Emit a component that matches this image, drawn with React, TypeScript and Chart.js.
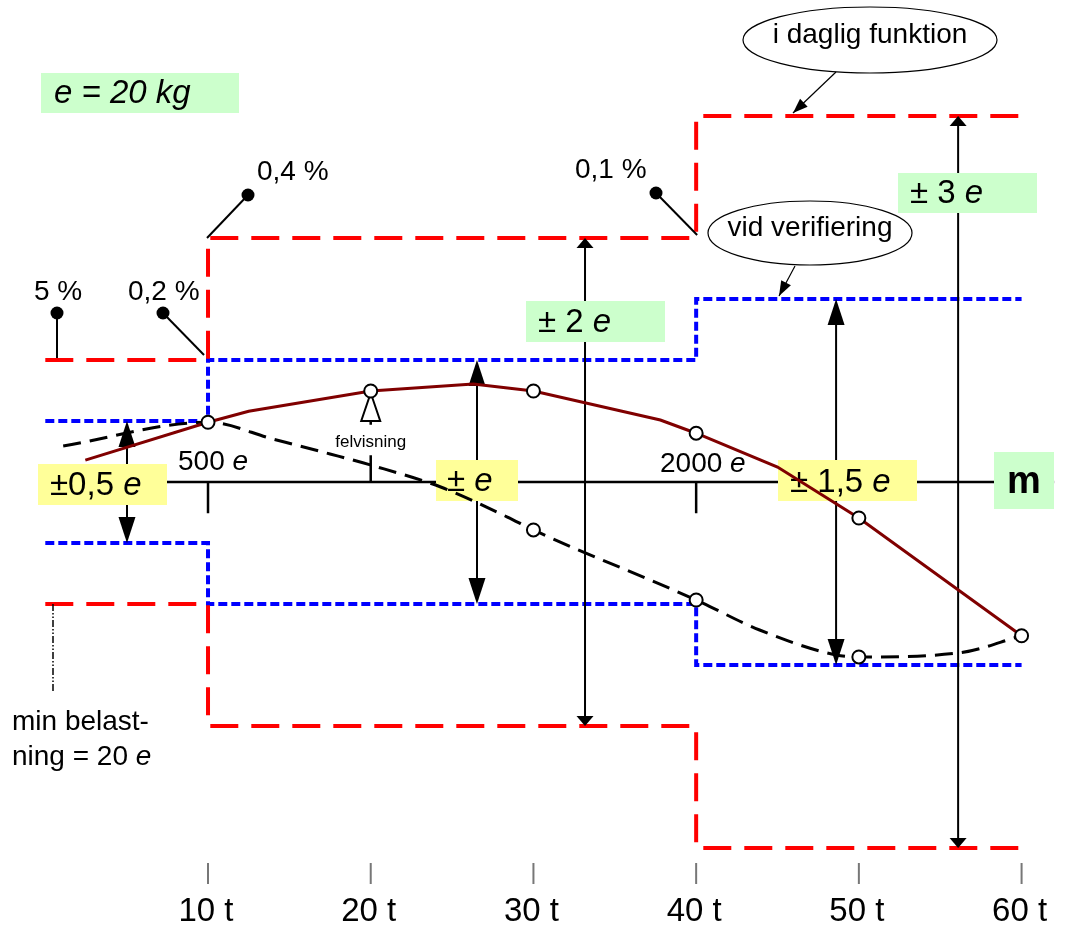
import React, { useEffect, useRef } from "react";
import { Chart, registerables } from "chart.js";

Chart.register(...registerables);

// ---- data (t on x, multiples of e on y) ----
const stepX = [0, 10, 10, 40, 40, 60];
const dailyUpper = [1, 1, 2, 2, 3, 3];
const dailyLower = [-1, -1, -2, -2, -3, -3];
const verifUpper = [0.5, 0.5, 1, 1, 1.5, 1.5];
const verifLower = [-0.5, -0.5, -1, -1, -1.5, -1.5];

const indicX = [2.46, 10, 12.5, 20, 26.3, 30, 37.8, 40, 45, 50, 60];
const indicY = [0.18, 0.49, 0.58, 0.746, 0.803, 0.746, 0.508, 0.4, 0.123, -0.295, -1.26];

const errX = [1.1, 10, 14, 17.5, 20, 24.3, 28.4, 30, 40, 43.9, 48.6, 50, 56.2, 60];
const errY = [0.295, 0.49, 0.352, 0.23, 0.139, -0.041, -0.287, -0.393, -0.967, -1.213, -1.418, -1.434, -1.4, -1.26];

const markX = [10, 20, 30, 40, 50, 60, 30, 40, 50];
const markY = [0.49, 0.746, 0.746, 0.4, -0.295, -1.26, -0.393, -0.967, -1.434];

const tickValues = [10, 20, 30, 40, 50, 60];
const tickLabels = ["10 t", "20 t", "30 t", "40 t", "50 t", "60 t"];

// double arrows: x position (t), top level, bottom level, big head?
const arrowX = [5.02, 26.53, 33.17, 48.6, 56.1];
const arrowTop = [0.5, 1, 2, 1.5, 3];
const arrowBottom = [-0.5, -1, -2, -1.5, -3];
const arrowBig = [true, true, false, true, false];

const FAM = '"Liberation Sans", Arial, Helvetica, sans-serif';

type Part = [string, boolean];

function rich(
  ctx: CanvasRenderingContext2D,
  parts: Part[],
  x: number,
  y: number,
  size: number,
  align: "left" | "center" = "left",
  bold = false
) {
  const fontOf = (it: boolean) => `${it ? "italic " : ""}${bold ? "bold " : ""}${size}px ${FAM}`;
  let total = 0;
  const ws: number[] = [];
  for (const [t, it] of parts) {
    ctx.font = fontOf(it);
    const w = ctx.measureText(t).width;
    ws.push(w);
    total += w;
  }
  let cx = align === "center" ? x - total / 2 : x;
  ctx.textAlign = "left";
  ctx.textBaseline = "alphabetic";
  ctx.fillStyle = "#000";
  parts.forEach(([t, it], i) => {
    ctx.font = fontOf(it);
    ctx.fillText(t, cx, y);
    cx += ws[i];
  });
}

function head(
  ctx: CanvasRenderingContext2D,
  tipX: number,
  tipY: number,
  fromX: number,
  fromY: number,
  len: number,
  width: number
) {
  const a = Math.atan2(tipY - fromY, tipX - fromX);
  const bx = tipX - len * Math.cos(a);
  const by = tipY - len * Math.sin(a);
  const nx = (-Math.sin(a) * width) / 2;
  const ny = (Math.cos(a) * width) / 2;
  ctx.beginPath();
  ctx.moveTo(tipX, tipY);
  ctx.lineTo(bx + nx, by + ny);
  ctx.lineTo(bx - nx, by - ny);
  ctx.closePath();
  ctx.fill();
}

function box(ctx: CanvasRenderingContext2D, x: number, y: number, w: number, h: number, color: string) {
  ctx.fillStyle = color;
  ctx.fillRect(x, y, w, h);
}

const GREEN = "#ccffcc";
const YELLOW = "#ffff99";

const middleLayer = {
  id: "middleLayer",
  beforeDatasetDraw(chart: any, args: any) {
    if (args.index !== 4) return;
    const ctx: CanvasRenderingContext2D = chart.ctx;
    const xs = chart.scales.x;
    const ys = chart.scales.y;
    const X = (v: number) => xs.getPixelForValue(v);
    const Y = (v: number) => ys.getPixelForValue(v);
    ctx.save();
    ctx.setLineDash([]);
    // main axis
    ctx.strokeStyle = "#000";
    ctx.lineWidth = 2.5;
    ctx.beginPath();
    ctx.moveTo(X(0), Y(0));
    ctx.lineTo(X(62), Y(0));
    ctx.stroke();
    // ticks at 10 and 40 (downwards), felvisning stem at 20
    ctx.beginPath();
    [10, 40].forEach((t) => {
      ctx.moveTo(X(t), Y(0));
      ctx.lineTo(X(t), Y(-0.255));
    });
    ctx.moveTo(X(20), Y(0));
    ctx.lineTo(X(20), Y(0.22));
    ctx.moveTo(X(20), Y(0.5));
    ctx.lineTo(X(20), Y(0.47));
    ctx.stroke();
    // felvisning hollow arrow head
    {
      const tipY = Y(0.746) + 2;
      const baseY = tipY + 28;
      ctx.beginPath();
      ctx.moveTo(X(20), tipY);
      ctx.lineTo(X(20) - 9.5, baseY);
      ctx.lineTo(X(20) + 9.5, baseY);
      ctx.closePath();
      ctx.fillStyle = "#fff";
      ctx.fill();
      ctx.lineWidth = 2;
      ctx.stroke();
    }
    // double arrows
    ctx.fillStyle = "#000";
    ctx.strokeStyle = "#000";
    arrowX.forEach((t, i) => {
      const x = X(t);
      const y1 = Y(arrowTop[i]);
      const y2 = Y(arrowBottom[i]);
      const len = arrowBig[i] ? 26 : 10;
      const w = 17;
      ctx.lineWidth = 2;
      ctx.beginPath();
      ctx.moveTo(x, y1 + len - 2);
      ctx.lineTo(x, y2 - len + 2);
      ctx.stroke();
      head(ctx, x, y1, x, y2, len, w);
      head(ctx, x, y2, x, y1, len, w);
    });
    // boxes
    box(ctx, 41, 73, 198, 40, GREEN);
    rich(ctx, [["e = 20 kg", true]], 54, 103, 33);
    box(ctx, 898, 173, 139, 40, GREEN);
    rich(ctx, [["± 3 ", false], ["e", true]], 910, 203, 33);
    box(ctx, 526, 301, 139, 41, GREEN);
    rich(ctx, [["± 2 ", false], ["e", true]], 538, 332, 33);
    box(ctx, 994, 452, 60, 57, GREEN);
    rich(ctx, [["m", false]], 1024, 493, 38, "center", true);
    box(ctx, 38, 464, 129, 41, YELLOW);
    rich(ctx, [["±0,5 ", false], ["e", true]], 50, 495, 33);
    box(ctx, 436, 460, 82, 41, YELLOW);
    rich(ctx, [["± ", false], ["e", true]], 447, 491, 33);
    box(ctx, 778, 460, 139, 41, YELLOW);
    rich(ctx, [["± 1,5 ", false], ["e", true]], 790, 492, 33);
    ctx.restore();
  },
};

const topLayer = {
  id: "topLayer",
  afterDatasetsDraw(chart: any) {
    const ctx: CanvasRenderingContext2D = chart.ctx;
    const xs = chart.scales.x;
    const ys = chart.scales.y;
    const X = (v: number) => xs.getPixelForValue(v);
    const Y = (v: number) => ys.getPixelForValue(v);
    ctx.save();
    ctx.setLineDash([]);
    // plain labels on the axis
    rich(ctx, [["500 ", false], ["e", true]], 178, 470, 28);
    rich(ctx, [["2000 ", false], ["e", true]], 660, 472, 28);
    rich(ctx, [["felvisning", false]], X(20), 447, 17, "center");
    // percentage pins
    const pins: { text: string; tx: number; ty: number; dx: number; dy: number; ex: number; ey: number }[] = [
      { text: "0,4 %", tx: 257, ty: 180, dx: 248, dy: 195, ex: X(10) - 1, ey: Y(2) },
      { text: "0,1 %", tx: 575, ty: 178, dx: 656, dy: 193, ex: X(40) + 1, ey: Y(2) - 3 },
      { text: "5 %", tx: 34, ty: 300, dx: 57, dy: 313, ex: 57, ey: Y(1) - 2 },
      { text: "0,2 %", tx: 128, ty: 300, dx: 163, dy: 313, ex: X(10) - 4, ey: Y(1) - 5 },
    ];
    pins.forEach((p) => {
      rich(ctx, [[p.text, false]], p.tx, p.ty, 28);
      ctx.strokeStyle = "#000";
      ctx.lineWidth = 2;
      ctx.beginPath();
      ctx.moveTo(p.dx, p.dy);
      ctx.lineTo(p.ex, p.ey);
      ctx.stroke();
      ctx.fillStyle = "#000";
      ctx.beginPath();
      ctx.arc(p.dx, p.dy, 6.5, 0, Math.PI * 2);
      ctx.fill();
    });
    // ellipses with callouts
    const ells = [
      { text: "i daglig funktion", cx: 870, cy: 40, rx: 127, ry: 33, by: 43, fx: 836, fy: 72, tx: 793, ty: Y(3) - 3 },
      { text: "vid verifiering", cx: 810, cy: 233, rx: 102, ry: 32, by: 236, fx: 795, fy: 266, tx: 779, ty: Y(1.5) - 3 },
    ];
    ells.forEach((e) => {
      ctx.beginPath();
      ctx.ellipse(e.cx, e.cy, e.rx, e.ry, 0, 0, Math.PI * 2);
      ctx.fillStyle = "#fff";
      ctx.fill();
      ctx.strokeStyle = "#000";
      ctx.lineWidth = 1.2;
      ctx.stroke();
      rich(ctx, [[e.text, false]], e.cx, e.by, 28, "center");
      ctx.beginPath();
      ctx.moveTo(e.fx, e.fy);
      ctx.lineTo(e.tx, e.ty);
      ctx.stroke();
      ctx.fillStyle = "#000";
      head(ctx, e.tx, e.ty, e.fx, e.fy, 15, 11);
    });
    // minimum load note
    ctx.strokeStyle = "#000";
    ctx.lineWidth = 1.5;
    ctx.setLineDash([7, 2, 1.5, 2, 1.5, 2]);
    ctx.beginPath();
    ctx.moveTo(53, Y(-1));
    ctx.lineTo(53, 692);
    ctx.stroke();
    ctx.setLineDash([]);
    rich(ctx, [["min belast-", false]], 12, 730, 28);
    rich(ctx, [["ning = 20 ", false], ["e", true]], 12, 765, 28);
    // bottom tick marks and labels
    ctx.strokeStyle = "#777";
    ctx.lineWidth = 2;
    tickValues.forEach((t, i) => {
      const x = X(t);
      ctx.beginPath();
      ctx.moveTo(x, 863);
      ctx.lineTo(x, 884);
      ctx.stroke();
      rich(ctx, [[tickLabels[i], false]], x - 2, 921, 33, "center");
    });
    ctx.restore();
  },
};

function stepSet(ys: number[], color: string, dash: number[]) {
  return {
    data: stepX.map((x, i) => ({ x, y: ys[i] })),
    borderColor: color,
    borderWidth: 4,
    borderDash: dash,
    borderCapStyle: "butt" as const,
    pointRadius: 0,
    tension: 0,
    fill: false,
    order: 10,
    clip: false as const,
  };
}

export default function App() {
  const ref = useRef<HTMLCanvasElement | null>(null);
  useEffect(() => {
    document.body.style.margin = "0";
    if (!ref.current) return;
    const chart = new Chart(ref.current, {
      type: "line",
      data: {
        datasets: [
          stepSet(dailyUpper, "#ff0000", [28, 13]),
          stepSet(dailyLower, "#ff0000", [28, 13]),
          stepSet(verifUpper, "#0000ff", [9, 4]),
          stepSet(verifLower, "#0000ff", [9, 4]),
          {
            data: errX.map((x, i) => ({ x, y: errY[i] })),
            borderColor: "#000",
            borderWidth: 3,
            borderDash: [18, 9],
            pointRadius: 0,
            cubicInterpolationMode: "monotone",
            fill: false,
            order: 5,
            clip: false,
          } as any,
          {
            data: indicX.map((x, i) => ({ x, y: indicY[i] })),
            borderColor: "#800000",
            borderWidth: 3,
            pointRadius: 0,
            tension: 0,
            fill: false,
            order: 4,
            clip: false,
          } as any,
          {
            data: markX.map((x, i) => ({ x, y: markY[i] })),
            showLine: false,
            pointRadius: 6.5,
            pointBackgroundColor: "#fff",
            pointBorderColor: "#000",
            pointBorderWidth: 2,
            order: 1,
            clip: false,
          } as any,
        ],
      },
      options: {
        animation: false,
        responsive: false,
        events: [],
        layout: { padding: 0, autoPadding: false } as any,
        plugins: { legend: { display: false }, tooltip: { enabled: false } },
        scales: {
          x: { type: "linear", min: -2.784, max: 62.73, display: false },
          y: { type: "linear", min: -3.631, max: 3.951, display: false },
        },
      },
      plugins: [middleLayer, topLayer],
    });
    return () => chart.destroy();
  }, []);
  return (
    <div style={{ position: "absolute", left: 0, top: 0, width: 1066, height: 925, background: "#fff" }}>
      <canvas ref={ref} width={1066} height={925} style={{ width: 1066, height: 925 }} />
    </div>
  );
}
